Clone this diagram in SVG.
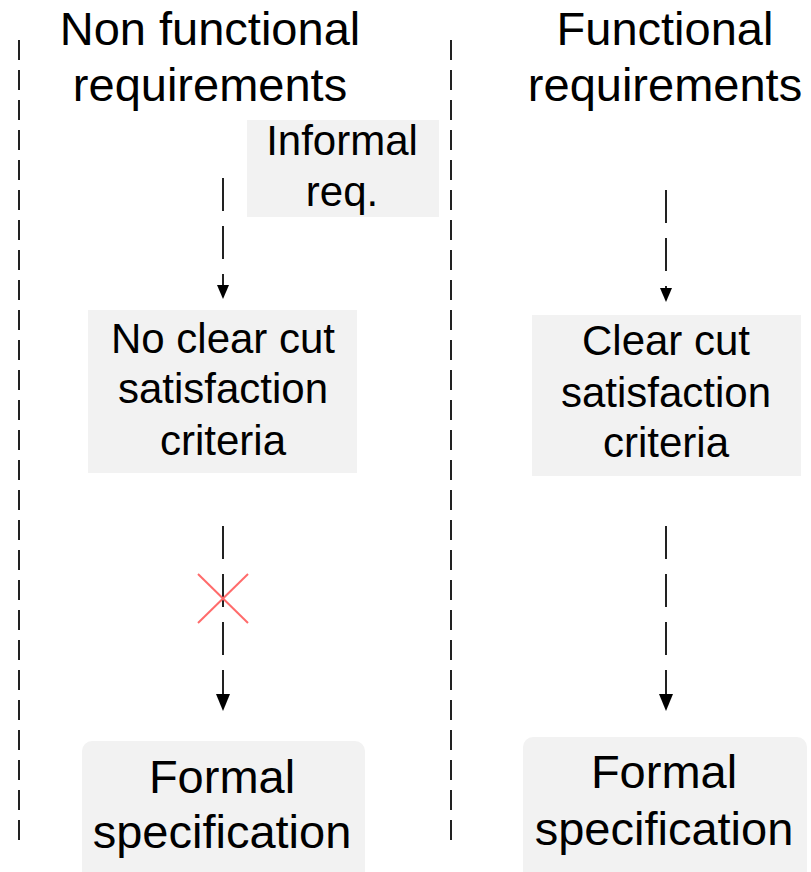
<svg xmlns="http://www.w3.org/2000/svg" width="811" height="872" viewBox="0 0 811 872">
  <style>
    text { font-family: "Liberation Sans", Arial, sans-serif; fill: #000; text-anchor: middle; }
    .title { font-size: 47px; }
    .label { font-size: 42px; }
    .big { font-size: 47px; }
    .box { fill: #f2f2f2; }
    .divider { stroke: #222; stroke-width: 2; stroke-dasharray: 20 10; fill: none; }
    .flow { stroke: #222; stroke-width: 2; stroke-dasharray: 33 15; fill: none; }
    .cross { stroke: #ff6b6b; stroke-width: 2; }
  </style>
  <defs>
    <marker id="arrow" markerWidth="12" markerHeight="14" refX="6" refY="14" orient="auto-start-reverse" markerUnits="userSpaceOnUse" viewBox="0 0 12 14">
      <path d="M0,0 L12,0 L6,14 Z" fill="#000" transform="rotate(0)"/>
    </marker>
  </defs>

  <!-- column dividers -->
  <g id="dividers">
    <line class="divider" x1="19" y1="40" x2="19" y2="840"/>
    <line class="divider" x1="451" y1="40" x2="451" y2="840"/>
  </g>

  <!-- column headings -->
  <g id="heading-nonfunctional">
    <text class="title" x="210" y="45">Non functional</text>
    <text class="title" x="210" y="101">requirements</text>
  </g>
  <g id="heading-functional">
    <text class="title" x="665" y="45">Functional</text>
    <text class="title" x="665" y="101">requirements</text>
  </g>

  <!-- nodes -->
  <g id="informal-req">
    <rect class="box" x="247" y="120" width="192" height="97"/>
    <text class="label" x="342" y="155">Informal</text>
    <text class="label" x="342" y="206">req.</text>
  </g>

  <g id="no-clear-cut">
    <rect class="box" x="88" y="310" width="269" height="163"/>
    <text class="label" x="223" y="353">No clear cut</text>
    <text class="label" x="223" y="403">satisfaction</text>
    <text class="label" x="223" y="455">criteria</text>
  </g>

  <g id="clear-cut">
    <rect class="box" x="532" y="315" width="269" height="161"/>
    <text class="label" x="666" y="355">Clear cut</text>
    <text class="label" x="666" y="407">satisfaction</text>
    <text class="label" x="666" y="457">criteria</text>
  </g>

  <g id="formal-spec-left">
    <rect class="box" x="82" y="741" width="283" height="140" rx="10" ry="10"/>
    <text class="big" x="222" y="793">Formal</text>
    <text class="big" x="222" y="848">specification</text>
  </g>

  <g id="formal-spec-right">
    <rect class="box" x="523" y="737" width="284" height="144" rx="10" ry="10"/>
    <text class="big" x="664" y="788">Formal</text>
    <text class="big" x="664" y="845">specification</text>
  </g>

  <!-- connectors -->
  <g id="connectors">
    <path d="M0,0" fill="none"/>
    <line class="flow" x1="223" y1="178" x2="223" y2="286"/>
    <path d="M217,285 L229,285 L223,299 Z" fill="#000"/>

    <line class="flow" x1="666" y1="190" x2="666" y2="289"/>
    <path d="M660,288 L672,288 L666,302 Z" fill="#000"/>

    <line class="flow" x1="223" y1="526" x2="223" y2="697"/>
    <path d="M216,694 L230,694 L223,711 Z" fill="#000"/>
    <g class="cross">
      <line x1="198" y1="574" x2="248" y2="623"/>
      <line x1="248" y1="574" x2="198" y2="623"/>
    </g>

    <line class="flow" x1="666" y1="526" x2="666" y2="697"/>
    <path d="M659,694 L673,694 L666,711 Z" fill="#000"/>
  </g>
</svg>
